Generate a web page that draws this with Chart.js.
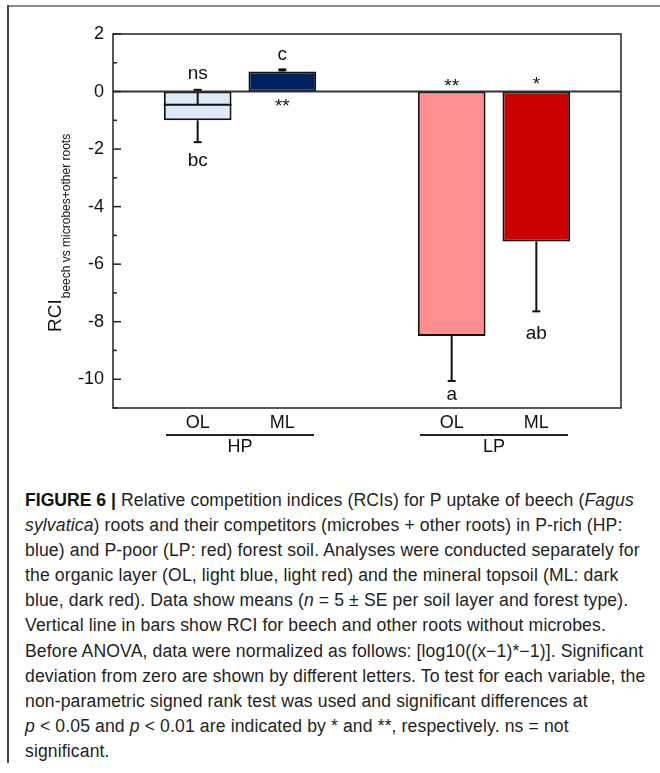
<!DOCTYPE html>
<html><head><meta charset="utf-8">
<script src="https://cdn.jsdelivr.net/npm/chart.js@4.4.1/dist/chart.umd.min.js"></script>
<style>
html,body{margin:0;padding:0;background:#fff;}
body{width:660px;height:773px;position:relative;overflow:hidden;font-family:"Liberation Sans",Arial,sans-serif;}
#frameTop{position:absolute;left:7px;top:5px;width:653px;height:2px;background:#8a8a8a;}
#frameLeft{position:absolute;left:7px;top:5px;width:1.5px;height:758px;background:#444;}
#c{position:absolute;left:0;top:0;}
#cap{position:absolute;left:25px;top:488px;font-size:17.6px;letter-spacing:0.12px;line-height:25.1px;color:#231f20;white-space:nowrap;}
#cap b{color:#111;letter-spacing:0;}
</style></head><body>
<div id="frameTop"></div><div id="frameLeft"></div>
<canvas id="c" width="660" height="470"></canvas>
<div id="cap"><b>FIGURE 6 |</b> Relative competition indices (RCIs) for P uptake of beech (<i>Fagus</i><br><i>sylvatica</i>) roots and their competitors (microbes + other roots) in P-rich (HP:<br>blue) and P-poor (LP: red) forest soil. Analyses were conducted separately for<br>the organic layer (OL, light blue, light red) and the mineral topsoil (ML: dark<br>blue, dark red). Data show means (<i>n</i> = 5 ± SE per soil layer and forest type).<br>Vertical line in bars show RCI for beech and other roots without microbes.<br>Before ANOVA, data were normalized as follows: [log10((x−1)*−1)]. Significant<br>deviation from zero are shown by different letters. To test for each variable, the<br>non-parametric signed rank test was used and significant differences at<br><i>p</i> &lt; 0.05 and <i>p</i> &lt; 0.01 are indicated by * and **, respectively. ns = not<br>significant.</div>
<script>
// ---- data ----
const groups = ['HP', 'LP'];
const layers = ['OL', 'ML'];
const meanRCI = [-1.00, 0.70, -8.50, -5.21];
const errLow  = [-1.76, 0.70, -10.06, -7.64];
const errHigh = [0.06, 0.77, -8.50, -5.21];
const innerLine = [-0.46, null, null, null];
const letters = ['bc', 'c', 'a', 'ab'];
const signif = ['ns', '**', '**', '*'];
const yMin = -11, yMax = 2;
const yTickLabels = [2, 0, -2, -4, -6, -8, -10];

// ---- style ----
const fills = ['#dde9f7', '#002060', '#ff8f8f', '#cc0000'];
const sigPlace = [{ref:'high', dy:-16}, {ref:'zero', dy:10.7}, {ref:'zero', dy:-8.8}, {ref:'zero', dy:-11}];
const letterPlace = [{ref:'low', dy:17}, {ref:'high', dy:-14}, {ref:'low', dy:14.3}, {ref:'low', dy:20.7}];
const FONT = '"Liberation Sans", Arial, sans-serif';

// build category axis: spacer, layers..., spacer ...
const labels = [''];
const values = [null];
const colors = ['rgba(0,0,0,0)'];
const barCat = [];
groups.forEach((g, gi) => {
  layers.forEach((l, li) => {
    const k = gi * layers.length + li;
    barCat.push(labels.length);
    labels.push(l);
    values.push(meanRCI[k]);
    colors.push(fills[k]);
  });
  labels.push('');
  values.push(null);
  colors.push('rgba(0,0,0,0)');
});

function centeredText(ctx, txt, x, yc) {
  const m = ctx.measureText(txt);
  const a = m.actualBoundingBoxAscent, d = m.actualBoundingBoxDescent;
  ctx.fillText(txt, x, yc + (a - d) / 2);
}

const decor = {
  id: 'decor',
  afterDatasetsDraw(chart) {
    const {ctx, chartArea: ca, scales: {x, y}} = chart;
    ctx.save();
    ctx.strokeStyle = '#111';
    ctx.fillStyle = '#111';
    // whiskers
    ctx.lineWidth = 2;
    barCat.forEach((cat, i) => {
      const xc = x.getPixelForValue(cat);
      const ym = y.getPixelForValue(meanRCI[i]);
      if (errLow[i] < meanRCI[i]) {
        const yl = y.getPixelForValue(errLow[i]);
        ctx.beginPath(); ctx.moveTo(xc, ym); ctx.lineTo(xc, yl); ctx.stroke();
        ctx.beginPath(); ctx.moveTo(xc - 4, yl); ctx.lineTo(xc + 4, yl); ctx.stroke();
      }
      if (innerLine[i] !== null || errHigh[i] > meanRCI[i]) {
        const from = innerLine[i] !== null ? innerLine[i] : meanRCI[i];
        const y0 = y.getPixelForValue(from);
        const yh = y.getPixelForValue(errHigh[i]);
        ctx.beginPath(); ctx.moveTo(xc, y0); ctx.lineTo(xc, yh); ctx.stroke();
        ctx.lineWidth = 3;
        ctx.beginPath(); ctx.moveTo(xc - 4, yh + 0.5); ctx.lineTo(xc + 4, yh + 0.5); ctx.stroke();
        ctx.lineWidth = 2;
      }
      if (innerLine[i] !== null) {
        const el = chart.getDatasetMeta(0).data[cat];
        const yi = y.getPixelForValue(innerLine[i]);
        ctx.beginPath(); ctx.moveTo(el.x - el.width / 2, yi); ctx.lineTo(el.x + el.width / 2, yi); ctx.stroke();
      }
    });
    // zero line
    const yz = y.getPixelForValue(0);
    ctx.lineWidth = 2;
    ctx.strokeStyle = '#333';
    ctx.beginPath(); ctx.moveTo(ca.left, yz); ctx.lineTo(ca.right, yz); ctx.stroke();
    // frame
    ctx.strokeStyle = '#222';
    ctx.lineWidth = 1.5;
    ctx.strokeRect(ca.left, ca.top, ca.right - ca.left, ca.bottom - ca.top);
    // inward ticks
    ctx.lineWidth = 1.5;
    for (let v = yMin; v <= yMax; v++) {
      const yy = y.getPixelForValue(v);
      const len = yTickLabels.includes(v) ? 8 : 4;
      ctx.beginPath(); ctx.moveTo(ca.left, yy); ctx.lineTo(ca.left + len, yy); ctx.stroke();
    }
    // annotations
    ctx.fillStyle = '#111';
    ctx.textAlign = 'center';
    ctx.textBaseline = 'alphabetic';
    ctx.font = '19px ' + FONT;
    const refPx = (i, ref) => ref === 'high' ? y.getPixelForValue(errHigh[i])
                             : ref === 'low' ? y.getPixelForValue(errLow[i])
                             : y.getPixelForValue(0);
    barCat.forEach((cat, i) => {
      const xc = x.getPixelForValue(cat);
      centeredText(ctx, signif[i], xc, refPx(i, sigPlace[i].ref) + sigPlace[i].dy);
      centeredText(ctx, letters[i], xc, refPx(i, letterPlace[i].ref) + letterPlace[i].dy);
    });
    // group labels
    ctx.lineWidth = 1.8;
    ctx.strokeStyle = '#222';
    ctx.font = '18px ' + FONT;
    groups.forEach((g, gi) => {
      const c0 = x.getPixelForValue(barCat[gi * layers.length]);
      const c1 = x.getPixelForValue(barCat[gi * layers.length + layers.length - 1]);
      const mid = (c0 + c1) / 2;
      ctx.beginPath(); ctx.moveTo(mid - 74, 435); ctx.lineTo(mid + 74, 435); ctx.stroke();
      centeredText(ctx, g, mid, 445.5);
    });
    // y title
    ctx.save();
    ctx.translate(61, 332);
    ctx.rotate(-Math.PI / 2);
    ctx.textAlign = 'left';
    ctx.font = '19px ' + FONT;
    ctx.fillText('RCI', 0, 0);
    const w = ctx.measureText('RCI').width;
    ctx.font = '12px ' + FONT;
    ctx.fillText('beech vs microbes+other roots', w + 1, 9);
    ctx.restore();
    ctx.restore();
  }
};

new Chart(document.getElementById('c'), {
  type: 'bar',
  data: {
    labels: labels,
    datasets: [{
      data: values,
      backgroundColor: colors,
      borderColor: '#111',
      borderWidth: 2,
      borderSkipped: false,
      barPercentage: 0.8,
      categoryPercentage: 1.0
    }]
  },
  options: {
    responsive: false,
    animation: false,
    devicePixelRatio: 1,
    layout: {padding: {top: 34, right: 39, left: 0, bottom: 0}},
    plugins: {legend: {display: false}, tooltip: {enabled: false}},
    scales: {
      x: {
        type: 'category',
        offset: false,
        grid: {display: false, drawTicks: false},
        border: {display: false},
        ticks: {font: {family: FONT, size: 18}, color: '#111', padding: 4, autoSkip: false, maxRotation: 0},
        afterFit(s) { s.height = 62; }
      },
      y: {
        min: yMin, max: yMax,
        grid: {display: false, drawTicks: false},
        border: {display: false},
        ticks: {
          stepSize: 1, autoSkip: false, padding: 9,
          font: {family: FONT, size: 18}, color: '#111',
          callback: v => yTickLabels.includes(v) ? String(v) : ''
        },
        afterFit(s) { s.width = 113; }
      }
    }
  },
  plugins: [decor]
});
</script>
</body></html>
